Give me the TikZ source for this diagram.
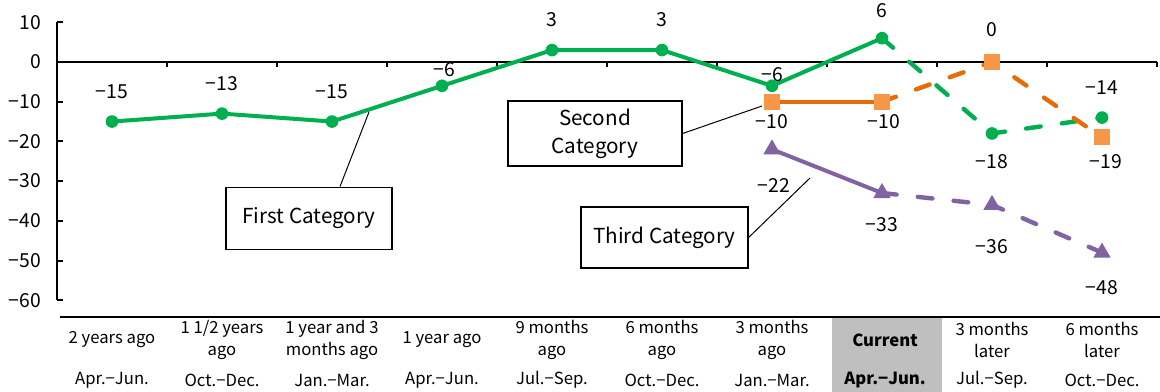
\documentclass[tikz,border=0pt]{standalone}
\usepackage{fontspec}
\setmainfont{Noto Sans CJK JP}
\usetikzlibrary{shapes.geometric}
\definecolor{grn}{HTML}{00B050}
\definecolor{orgl}{HTML}{E46C0A}
\definecolor{orgm}{HTML}{F79646}
\definecolor{purp}{HTML}{8064A2}
\definecolor{cellgray}{HTML}{BFBFBF}
\begin{document}
\begin{tikzpicture}[x=0.75pt,y=-0.75pt,
  axisline/.style={line width=1.5pt},
  gline/.style={draw=grn,line width=3pt},
  oline/.style={draw=orgl,line width=3pt},
  tline/.style={draw=purp,line width=3pt},
  dashline/.style={line width=3.3pt,dash pattern=on 11pt off 16pt,line cap=round},
  gmark/.style={circle,fill=grn,inner sep=0pt,minimum size=9.5pt},
  omark/.style={rectangle,fill=orgm,inner sep=0pt,minimum size=12pt},
  tmark/.style={regular polygon,regular polygon sides=3,fill=purp,inner sep=0pt,minimum size=15pt},
  val/.style={font=\fontsize{14.5}{16}\selectfont,inner sep=0pt},
  ylab/.style={font=\fontsize{14.5}{16}\selectfont,anchor=east,inner sep=0pt},
  cat/.style={font=\fontsize{12.5}{17}\selectfont,align=center,inner sep=0pt},
  callout/.style={draw,line width=0.9pt,fill=white,font=\fontsize{15.5}{21}\selectfont,align=center},
  leader/.style={line width=0.75pt}]
\useasboundingbox (0,0) rectangle (1160,392);
% y axis
\draw[axisline] (57,22) -- (57,300);
\foreach \v in {10,0,-10,-20,-30,-40,-50,-60}{
  \draw[axisline] (57,{62-3.97*\v}) -- (63,{62-3.97*\v});
  \node[ylab] at (41,{62-3.97*\v}) {\ifnum\v<0 −\the\numexpr-\v\relax\else\v\fi};
}
% x axis
\draw[axisline] (57,62) -- (1157,62);
\foreach \i in {1,...,10}{
  \draw[axisline] ({57+110*\i},62) -- ({57+110*\i},67);
}
% bottom table
\fill[cellgray] (832,318) rectangle (942,392);
\draw[axisline] (60,317) -- (1160,317);
\node[cat] (c1) at (112,340) {2 years ago};
\node[cat] (c2) at (222,340) {1 1/2 years\\ago};
\node[cat] (c3) at (332,340) {1 year and 3\\months ago};
\node[cat] (c4) at (442,340) {1 year ago};
\node[cat] (c5) at (552,340) {9 months\\ago};
\node[cat] (c6) at (662,340) {6 months\\ago};
\node[cat] (c7) at (772,340) {3 months\\ago};
\node[cat] (c8) at (885,340) {\bfseries Current};
\node[cat] (c9) at (992,340) {3 months\\later};
\node[cat] (c10) at (1102,340) {6 months\\later};
\node[cat] (d1) at (112,380) {Apr.−Jun.};
\node[cat] (d2) at (222,380) {Oct.−Dec.};
\node[cat] (d3) at (332,380) {Jan.−Mar.};
\node[cat] (d4) at (442,380) {Apr.−Jun.};
\node[cat] (d5) at (552,380) {Jul.−Sep.};
\node[cat] (d6) at (662,380) {Oct.−Dec.};
\node[cat] (d7) at (772,380) {Jan.−Mar.};
\node[cat] (d8) at (885,380) {\bfseries Apr.−Jun.};
\node[cat] (d9) at (992,380) {Jul.−Sep.};
\node[cat] (d10) at (1102,380) {Oct.−Dec.};
% data coordinates
\foreach \i/\v in {1/-15,2/-13,3/-15,4/-6,5/3,6/3,7/-6,8/6,9/-18,10/-14}{
  \coordinate (g\i) at ({112+110*(\i-1)},{62-3.97*\v});
}
\foreach \i/\v in {7/-10,8/-10,9/0,10/-19}{
  \coordinate (o\i) at ({112+110*(\i-1)},{62-3.97*\v});
}
\foreach \i/\v in {7/-22,8/-33,9/-36,10/-48}{
  \coordinate (t\i) at ({112+110*(\i-1)},{62-3.97*\v});
}
% lines
\draw[tline] (t7) -- (t8);
\draw[tline,dashline] (t8) -- (t9) -- (t10);
\draw[gline,line join=round] (g1) -- (g2) -- (g3) -- (g4) -- (g5) -- (g6) -- (g7) -- (g8);
\draw[gline,dashline] (g8) -- (g9) -- (g10);
\draw[oline] (o7) -- (o8);
\draw[oline,dashline] (o8) -- (o9) -- (o10);
% markers
\foreach \i in {1,...,10}{ \node[gmark] (gm\i) at (g\i) {}; }
\foreach \i in {7,...,10}{ \node[omark] (om\i) at (o\i) {}; }
\foreach \i in {7,...,10}{ \node[tmark] (tm\i) at (t\i) {}; }
% value labels
\node[val] (vg1) at (112,92) {−15};
\node[val] (vg2) at (222,84) {−13};
\node[val] (vg3) at (332,92) {−15};
\node[val] (vg4) at (444,70) {−6};
\node[val] (vg5) at (552,20) {3};
\node[val] (vg6) at (662,20) {3};
\node[val] (vg7) at (772,75) {−6};
\node[val] (vg8) at (882,11) {6};
\node[val] (vg9) at (992,162) {−18};
\node[val] (vg10) at (1102,88) {−14};
\node[val] (vo7) at (772,122) {−10};
\node[val] (vo8) at (884,122) {−10};
\node[val] (vo9) at (992,30) {0};
\node[val] (vo10) at (1106,162) {−19};
\node[val] (vt7) at (774,185) {−22};
\node[val] (vt8) at (882,225) {−33};
\node[val] (vt9) at (992,247) {−36};
\node[val] (vt10) at (1102,288) {−48};
% callouts
\node[callout,minimum width=124.5pt,minimum height=47pt] (fbox) at (309,218.5) {First Category};
\node[callout,minimum width=130.5pt,minimum height=48.75pt] (sbox) at (595,133.5) {Second\\Category};
\node[callout,minimum width=125.25pt,minimum height=45.75pt] (tbox) at (664.5,237.5) {Third Category};
\coordinate (fl) at (369,112);
\coordinate (sl) at (762,106);
\coordinate (tl) at (810,178);
\draw[leader] ([xshift=23.25pt]fbox.north) -- (fl);
\draw[leader] (sbox.east) -- (sl);
\draw[leader] (tbox.east) -- (tl);
\end{tikzpicture}
\end{document}
